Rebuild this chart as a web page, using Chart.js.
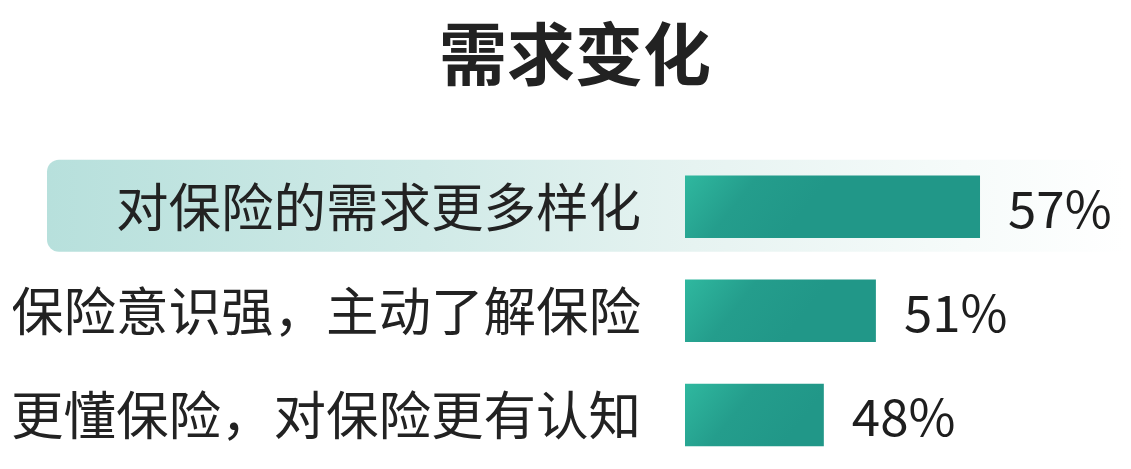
<!DOCTYPE html>
<html>
<head>
<meta charset="utf-8">
<script src="https://cdn.jsdelivr.net/npm/chart.js@4.4.1/dist/chart.umd.min.js"></script>
<style>
  html, body { margin: 0; padding: 0; background: #ffffff; }
  #wrap { width: 1131px; height: 469px; position: relative; }
</style>
</head>
<body>
<div id="wrap"><canvas id="c"></canvas></div>
<script>
const titleText = '需求变化';
const categories = ['对保险的需求更多样化', '保险意识强，主动了解保险', '更懂保险，对保险更有认知'];
const values = [57, 51, 48];
const valueLabels = ['57%', '51%', '48%'];
const highlightIndex = 0;

const FONT = "'Noto Sans CJK SC', 'Noto Sans', sans-serif";

const highlightPlugin = {
  id: 'highlight',
  beforeDraw(chart) {
    const ctx = chart.ctx;
    const y = chart.scales.y.getPixelForValue(highlightIndex);
    const h = 92, x0 = 47, x1 = 1125, r = 12;
    const top = y - h / 2 - 1;
    const g = ctx.createLinearGradient(x0, 0, x1, 0);
    g.addColorStop(0, '#b7e0dc');
    g.addColorStop(0.35, '#d0eae7');
    g.addColorStop(0.6, '#e6f3f1');
    g.addColorStop(0.85, '#f6fbfa');
    g.addColorStop(1, 'rgba(255,255,255,1)');
    ctx.save();
    ctx.fillStyle = g;
    ctx.beginPath();
    ctx.moveTo(x0 + r, top);
    ctx.lineTo(x1, top);
    ctx.lineTo(x1, top + h);
    ctx.lineTo(x0 + r, top + h);
    ctx.arcTo(x0, top + h, x0, top + h - r, r);
    ctx.lineTo(x0, top + r);
    ctx.arcTo(x0, top, x0 + r, top, r);
    ctx.closePath();
    ctx.fill();
    ctx.restore();
  }
};

const valueLabelPlugin = {
  id: 'valueLabels',
  afterDatasetsDraw(chart) {
    const ctx = chart.ctx;
    const meta = chart.getDatasetMeta(0);
    ctx.save();
    ctx.font = "400 51px " + FONT;
    ctx.fillStyle = '#1e1e1e';
    ctx.textAlign = 'left';
    ctx.textBaseline = 'middle';
    meta.data.forEach((bar, i) => {
      ctx.fillText(valueLabels[i], bar.x + 28, bar.y + 2);
    });
    ctx.restore();
  }
};

function barFill(context) {
  const chart = context.chart;
  const area = chart.chartArea;
  if (!area) return '#229a89';
  const y = chart.scales.y.getPixelForValue(context.dataIndex);
  const x0 = area.left;
  const g = chart.ctx.createLinearGradient(x0, y - 31, x0 + 90, y + 40);
  g.addColorStop(0, '#2fb89f');
  g.addColorStop(0.5, '#249d8c');
  g.addColorStop(1, '#219788');
  return g;
}

new Chart(document.getElementById('c'), {
  type: 'bar',
  data: {
    labels: categories,
    datasets: [{
      data: values,
      backgroundColor: barFill,
      borderWidth: 0,
      barPercentage: 0.6,
      categoryPercentage: 1.0
    }]
  },
  plugins: [highlightPlugin, valueLabelPlugin],
  options: {
    indexAxis: 'y',
    responsive: true,
    maintainAspectRatio: false,
    animation: false,
    layout: { padding: { left: 13, right: -6, top: 0, bottom: 2 } },
    plugins: {
      legend: { display: false },
      tooltip: { enabled: false },
      title: {
        display: true,
        text: titleText,
        color: '#222222',
        font: { family: FONT, size: 68, weight: 'bold', lineHeight: 1.2 },
        padding: { top: 13, bottom: 60 }
      }
    },
    scales: {
      x: {
        display: false,
        min: 40,
        max: 65.7,
        grid: { display: false }
      },
      y: {
        grid: { display: false },
        border: { display: false },
        ticks: {
          color: '#222222',
          font: { family: FONT, size: 52.5, weight: '400' },
          padding: 36
        },
        afterFit(scale) {
          scale.width = 672;
          scale.paddingTop = 0;
          scale.paddingBottom = 0;
        }
      }
    }
  }
});
</script>
</body>
</html>
